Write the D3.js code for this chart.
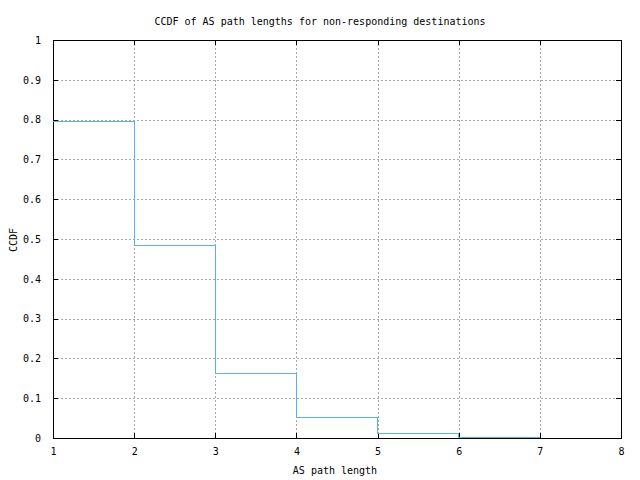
<!DOCTYPE html>
<html>
<head>
<meta charset="utf-8">
<script src="https://cdn.jsdelivr.net/npm/d3@7"></script>
<style>
  body { margin: 0; background: #fff; }
  svg text { font-family: "DejaVu Sans Mono", monospace; font-size: 10px; fill: #000; }
</style>
</head>
<body>
<div id="chart-container"></div>
<script>
// Data
const pathLengths = [1, 2, 3, 4, 5, 6, 7];
const ccdfValues = [0.796, 0.483, 0.163, 0.052, 0.012, 0.002, 0.002];
const xTickValues = [1, 2, 3, 4, 5, 6, 7, 8];
const yTickValues = [0, 0.1, 0.2, 0.3, 0.4, 0.5, 0.6, 0.7, 0.8, 0.9, 1];

// Dimensions
const margin = { top: 40, right: 19, bottom: 42, left: 53 };
const width = 640 - margin.left - margin.right;
const height = 480 - margin.top - margin.bottom;

const svg = d3.select("#chart-container")
    .append("svg")
    .attr("width", 640)
    .attr("height", 480);

const g = svg.append("g")
    .attr("transform", `translate(${margin.left},${margin.top})`);

// Scales
const xScale = d3.scaleLinear().domain([1, 8]).range([0, width]);
const yScale = d3.scaleLinear().domain([0, 1]).range([height, 0]);

// Grid lines (dashed)
g.append("g")
    .selectAll("line.xgrid")
    .data(xTickValues.slice(1, -1))
    .join("line")
    .attr("x1", d => Math.round(xScale(d)) + 0.5)
    .attr("x2", d => Math.round(xScale(d)) + 0.5)
    .attr("y1", 0)
    .attr("y2", height)
    .attr("stroke", "#a8a8a8")
    .attr("shape-rendering", "crispEdges")
    .attr("stroke-dasharray", "2,2");

g.append("g")
    .selectAll("line.ygrid")
    .data(yTickValues.slice(1, -1))
    .join("line")
    .attr("y1", d => Math.round(yScale(d)) + 0.5)
    .attr("y2", d => Math.round(yScale(d)) + 0.5)
    .attr("x1", 0)
    .attr("x2", width)
    .attr("stroke", "#a8a8a8")
    .attr("shape-rendering", "crispEdges")
    .attr("stroke-dasharray", "2,2");

// Axes with inward ticks, mirrored on all sides
const tickLen = 5;
const xAxis = d3.axisBottom(xScale).tickValues(xTickValues).tickSizeInner(-tickLen).tickSizeOuter(0).tickPadding(10).tickFormat(d3.format("d"));
const xAxisTop = d3.axisTop(xScale).tickValues(xTickValues).tickSizeInner(-tickLen).tickSizeOuter(0).tickFormat("");
const yAxis = d3.axisLeft(yScale).tickValues(yTickValues).tickSizeInner(-tickLen).tickSizeOuter(0).tickPadding(12).tickFormat(d => d === 0 || d === 1 ? d3.format("d")(d) : d3.format(".1f")(d));
const yAxisRight = d3.axisRight(yScale).tickValues(yTickValues).tickSizeInner(-tickLen).tickSizeOuter(0).tickFormat("");

function styleAxis(sel) {
    sel.select(".domain").remove();
    sel.selectAll("line").attr("stroke", "#000").attr("shape-rendering", "crispEdges");
    sel.selectAll("text").style("font-family", "DejaVu Sans Mono, monospace").style("font-size", "10px");
}

g.append("g").attr("transform", `translate(0,${height})`).call(xAxis).call(styleAxis);
g.append("g").call(xAxisTop).call(styleAxis);
g.append("g").call(yAxis).call(styleAxis);
g.append("g").attr("transform", `translate(${width},0)`).call(yAxisRight).call(styleAxis);

// Border
g.append("rect")
    .attr("x", 0.5)
    .attr("y", 0.5)
    .attr("width", width)
    .attr("height", height)
    .attr("fill", "none")
    .attr("shape-rendering", "crispEdges")
    .attr("stroke", "#000");

// Step line
const line = d3.line()
    .x((d, i) => xScale(pathLengths[i]))
    .y(d => yScale(d))
    .curve(d3.curveStepAfter);

g.append("path")
    .datum(ccdfValues)
    .attr("d", line)
    .attr("fill", "none")
    .attr("stroke", "#56b4e9")
    .attr("shape-rendering", "crispEdges")
    .attr("stroke-width", 1);

// Title
svg.append("text")
    .attr("x", 320)
    .attr("y", 25)
    .attr("text-anchor", "middle")
    .text("CCDF of AS path lengths for non-responding destinations");

// Axis labels
svg.append("text")
    .attr("x", 335)
    .attr("y", 474)
    .attr("text-anchor", "middle")
    .text("AS path length");

svg.append("text")
    .attr("transform", "rotate(-90)")
    .attr("x", -240)
    .attr("y", 17)
    .attr("text-anchor", "middle")
    .text("CCDF");
</script>
</body>
</html>
